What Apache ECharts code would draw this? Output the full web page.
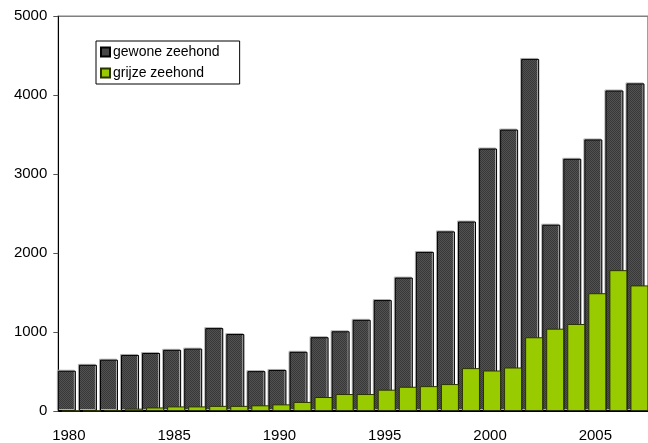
<!DOCTYPE html>
<html>
<head>
<meta charset="utf-8">
<script src="https://cdn.jsdelivr.net/npm/echarts@6/dist/echarts.min.js"></script>
<style>
  html, body { margin: 0; padding: 0; background: #fff; }
  #chart { width: 648px; height: 443px; }
</style>
</head>
<body>
<div id="chart"></div>
<script>
// seal counts per year
const years = ['1980','1981','1982','1983','1984','1985','1986','1987','1988','1989',
  '1990','1991','1992','1993','1994','1995','1996','1997','1998','1999',
  '2000','2001','2002','2003','2004','2005','2006','2007'];
const gewone = [510, 585, 650, 710, 735, 775, 790, 1050, 975, 505,
  520, 750, 935, 1010, 1155, 1405, 1690, 2015, 2275, 2400,
  3325, 3565, 4460, 2360, 3195, 3440, 4060, 4150];
const grijze = [0, 2, 10, 30, 45, 58, 58, 65, 65, 72,
  84, 115, 177, 215, 215, 270, 307, 315, 341, 543,
  513, 551, 934, 1043, 1102, 1492, 1784, 1591];
const yTicks = [0, 1000, 2000, 3000, 4000, 5000];

// little checker fill like the excel pattern
function checker() {
  const c = document.createElement('canvas');
  c.width = 2; c.height = 2;
  const g = c.getContext('2d');
  g.fillStyle = '#525252'; g.fillRect(0, 0, 2, 2);
  g.fillStyle = '#383838'; g.fillRect(0, 0, 1, 1); g.fillRect(1, 1, 1, 1);
  return c;
}

const chart = echarts.init(document.getElementById('chart'));
const font = 'Liberation Sans, Arial, sans-serif';

chart.setOption({
  backgroundColor: '#fff',
  animation: false,
  grid: {
    left: 58.3, top: 16.3, width: 597.3, height: 396,
    show: true, borderColor: '#808080', borderWidth: 1.5, backgroundColor: 'transparent'
  },
  legend: {
    orient: 'vertical',
    left: 96, top: 41,
    data: ['gewone zeehond', 'grijze zeehond'],
    backgroundColor: '#fff',
    borderColor: '#000', borderWidth: 1,
    padding: [4, 20, 4, 4],
    itemWidth: 9, itemHeight: 9, itemGap: 7,
    icon: 'rect',
    textStyle: { fontFamily: font, fontSize: 14, color: '#000', padding: [0, 0, 0, -2] }
  },
  xAxis: {
    type: 'category',
    data: years,
    axisLine: { lineStyle: { color: '#000', width: 1 } },
    axisTick: { interval: 0, length: 5, lineStyle: { color: '#555' } },
    axisLabel: { interval: 4, margin: 17, fontFamily: font, fontSize: 15, color: '#000' }
  },
  yAxis: {
    type: 'value',
    min: yTicks[0], max: yTicks[yTicks.length - 1], interval: 1000,
    splitLine: { show: false },
    axisLine: { show: true, lineStyle: { color: '#000', width: 1 } },
    axisTick: { show: true, length: 5, lineStyle: { color: '#555' } },
    axisLabel: { margin: 11, fontFamily: font, fontSize: 15, color: '#000',
      formatter: v => String(v) }
  },
  series: [
    {
      name: 'gewone zeehond',
      type: 'bar',
      data: gewone,
      barWidth: 18,
      barGap: '-78%',
      itemStyle: {
        color: { image: checker(), repeat: 'repeat' },
        borderColor: '#000', borderWidth: 1,
        shadowColor: '#b0b0b0', shadowOffsetX: -1, shadowOffsetY: -1, shadowBlur: 0
      }
    },
    {
      name: 'grijze zeehond',
      type: 'bar',
      data: grijze,
      barWidth: 18,
      itemStyle: { color: '#99cc00', borderColor: '#2b3300', borderWidth: 1 }
    }
  ]
});
</script>
</body>
</html>
